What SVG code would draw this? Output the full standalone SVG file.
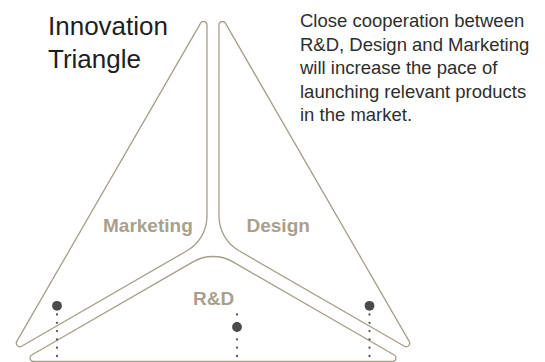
<svg xmlns="http://www.w3.org/2000/svg" width="545" height="362" viewBox="0 0 545 362">
  <style>
    .shape { fill: none; stroke: #A69E8B; stroke-width: 1.3; stroke-linejoin: round; }
    .label { font-family: "Liberation Sans", Arial, sans-serif; font-weight: bold; font-size: 19px; fill: #A8A08D; }
    .title { font-family: "Liberation Sans", Arial, sans-serif; font-size: 26px; fill: #1E1E1E; }
    .para { font-family: "Liberation Sans", Arial, sans-serif; font-size: 18.5px; fill: #2E2E2E; }
    .pin { fill: #4B4B4D; }
    .dots { stroke: #555557; stroke-width: 2.3; stroke-linecap: round; stroke-dasharray: 0 8.3; fill: none; }
  </style>
  <rect width="545" height="362" fill="#FFFFFF"/>

  <g id="title">
    <text class="title" x="48" y="35">Innovation</text>
    <text class="title" x="48" y="68">Triangle</text>
  </g>

  <g id="description">
    <text class="para" x="300" y="27.3">Close cooperation between</text>
    <text class="para" x="300" y="50.7">R&amp;D, Design and Marketing</text>
    <text class="para" x="300" y="74.1">will increase the pace of</text>
    <text class="para" x="300" y="97.5">launching relevant products</text>
    <text class="para" x="300" y="120.9">in the market.</text>
  </g>

  <g id="node-marketing">
    <path class="shape" d="M 207 25.06 L 207 216.11 A 40 40 0 0 1 187 250.75 L 21.56 346.22 A 3.5 3.5 0 0 1 16.78 341.44 L 200.47 23.31 A 3.5 3.5 0 0 1 207 25.06 Z"/>
    <text class="label" x="103" y="232">Marketing</text>
  </g>

  <g id="node-design">
    <path class="shape" d="M 219 25.06 L 219 216.11 A 40 40 0 0 0 239 250.75 L 404.44 346.22 A 3.5 3.5 0 0 0 409.22 341.44 L 225.53 23.31 A 3.5 3.5 0 0 0 219 25.06 Z"/>
    <text class="label" x="246.5" y="232">Design</text>
  </g>

  <g id="node-rnd">
    <path class="shape" d="M 193 261.85 A 40 40 0 0 1 233 261.85 L 394.29 354.97 A 3.5 3.5 0 0 1 392.54 361.5 L 33.46 361.5 A 3.5 3.5 0 0 1 31.71 354.97 Z"/>
    <text class="label" x="193" y="305">R&amp;D</text>
  </g>

  <g id="connectors">
    <line class="dots" x1="57" y1="314.5" x2="57" y2="357"/>
    <line class="dots" x1="237" y1="314.5" x2="237" y2="357"/>
    <line class="dots" x1="369.5" y1="314.5" x2="369.5" y2="357"/>
    <circle class="pin" cx="57" cy="305.8" r="4.9"/>
    <circle class="pin" cx="237" cy="327" r="4.9"/>
    <circle class="pin" cx="369.5" cy="305.8" r="4.9"/>
  </g>
</svg>
